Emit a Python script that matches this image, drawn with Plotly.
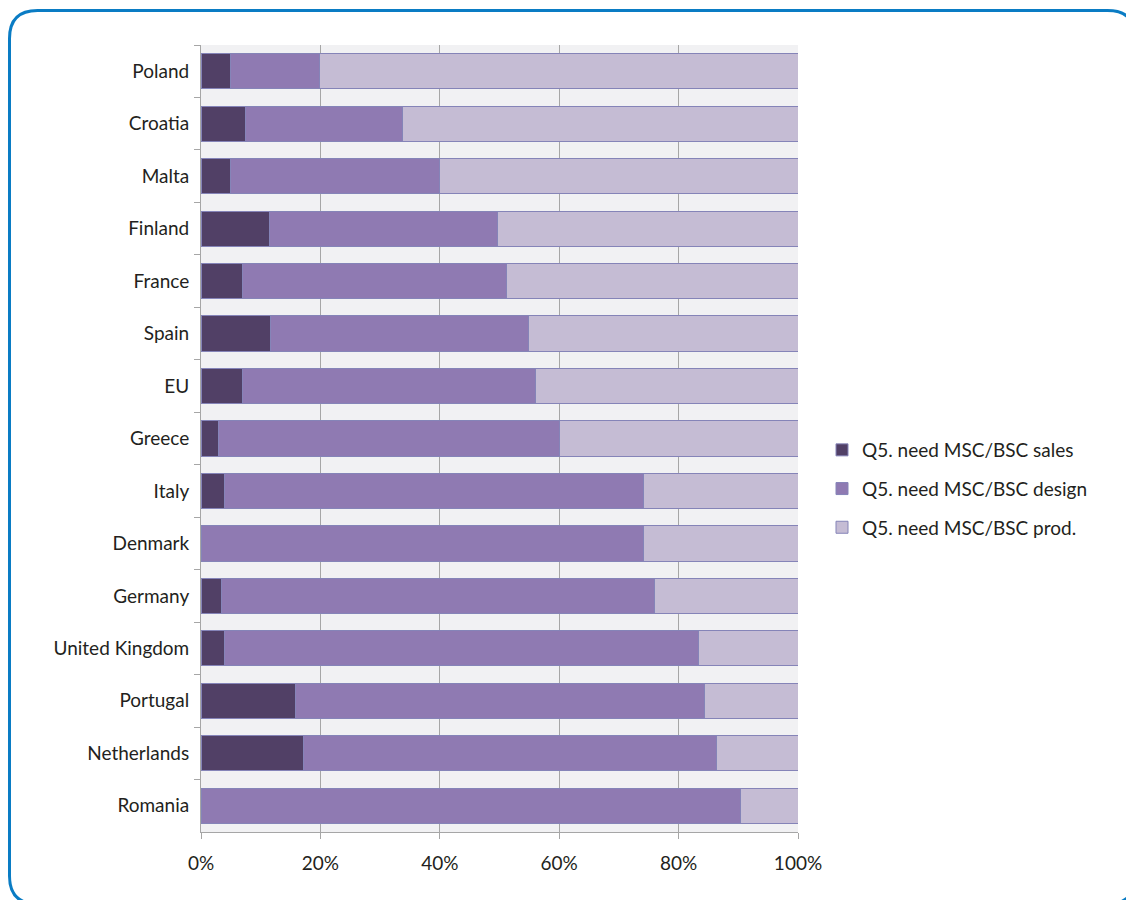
import plotly.graph_objects as go

countries = ["Poland", "Croatia", "Malta", "Finland", "France", "Spain", "EU", "Greece",
             "Italy", "Denmark", "Germany", "United Kingdom", "Portugal", "Netherlands", "Romania"]
sales = [5.0, 7.5, 5.0, 11.4, 6.9, 11.7, 6.9, 3.0, 4.0, 0.0, 3.4, 3.9, 15.9, 17.1, 0.0]
design_end = [19.9, 33.8, 40.0, 49.6, 51.1, 54.9, 56.1, 60.1, 74.2, 74.2, 76.0, 83.4, 84.4, 86.4, 90.3]
design = [round(d - s, 1) for d, s in zip(design_end, sales)]
prod = [round(100 - d, 1) for d in design_end]

series_names = ["Q5. need MSC/BSC sales", "Q5. need MSC/BSC design", "Q5. need MSC/BSC prod."]
series_colors = ["#514066", "#8f7ab2", "#c5bcd4"]
x_ticks = [0, 20, 40, 60, 80, 100]
x_ticklabels = ["0%", "20%", "40%", "60%", "80%", "100%"]

OFF = 8  # browser body margin
W, H = 1134 - OFF, 900 - OFF
# plot area in page pixels
L, R, T, B = 201, 798, 45, 832

fig = go.Figure()
for i, (name, vals, col) in enumerate(zip(series_names, [sales, design, prod], series_colors)):
    fig.add_trace(go.Bar(
        y=countries, x=vals, orientation="h", name=name,
        marker=dict(color=col, line=dict(color="#8584b8", width=1)),
        legendgroup=f"g{i}",
    ))

def px(x):
    return (x - L) / (R - L)

def py(y):
    return (B - y) / (B - T)

# rounded frame (page pixel coords)
x0, x1, y0, y1, r = 9.5, 1135.5, 10.5, 904, 28
path = (f"M {px(x0+r)},{py(y0)} L {px(x1-r)},{py(y0)} "
        f"Q {px(x1)},{py(y0)} {px(x1)},{py(y0+r)} "
        f"L {px(x1)},{py(y1-r)} Q {px(x1)},{py(y1)} {px(x1-r)},{py(y1)} "
        f"L {px(x0+r)},{py(y1)} Q {px(x0)},{py(y1)} {px(x0)},{py(y1-r)} "
        f"L {px(x0)},{py(y0+r)} Q {px(x0)},{py(y0)} {px(x0+r)},{py(y0)} Z")

shapes = [
    dict(type="path", xref="paper", yref="paper", path=path,
         line=dict(color="#0a7cc4", width=3), fillcolor="rgba(0,0,0,0)", layer="above"),
]

fig.update_layout(
    width=W, height=H,
    margin=dict(l=L - OFF, r=1134 - R, t=T - OFF, b=900 - B, pad=0),
    barmode="stack", bargap=0.33,
    paper_bgcolor="white", plot_bgcolor="#f1f1f3",
    font=dict(family="Lato, 'Open Sans', sans-serif", size=19, color="#231f20"),
    showlegend=True,
    legend=dict(x=px(822), y=py(489), xanchor="left", yanchor="middle",
                traceorder="grouped", tracegroupgap=11,
                font=dict(size=19), itemwidth=30, bgcolor="rgba(0,0,0,0)"),
    shapes=shapes,
    xaxis=dict(range=[0, 100], tickvals=x_ticks, ticktext=x_ticklabels,
               showgrid=True, gridcolor="#a6a6a6", gridwidth=1,
               ticks="outside", ticklen=6, tickcolor="#a6a6a6",
               showline=True, linecolor="#a6a6a6", linewidth=1,
               zeroline=False, fixedrange=True, ticklabelstandoff=8),
    yaxis=dict(categoryorder="array", categoryarray=countries, autorange="reversed",
               tickson="boundaries", ticks="outside", ticklen=6, tickcolor="#a6a6a6",
               showline=True, linecolor="#a6a6a6", linewidth=1,
               showgrid=False, ticklabelstandoff=7),
)

fig.write_html("out.html")
